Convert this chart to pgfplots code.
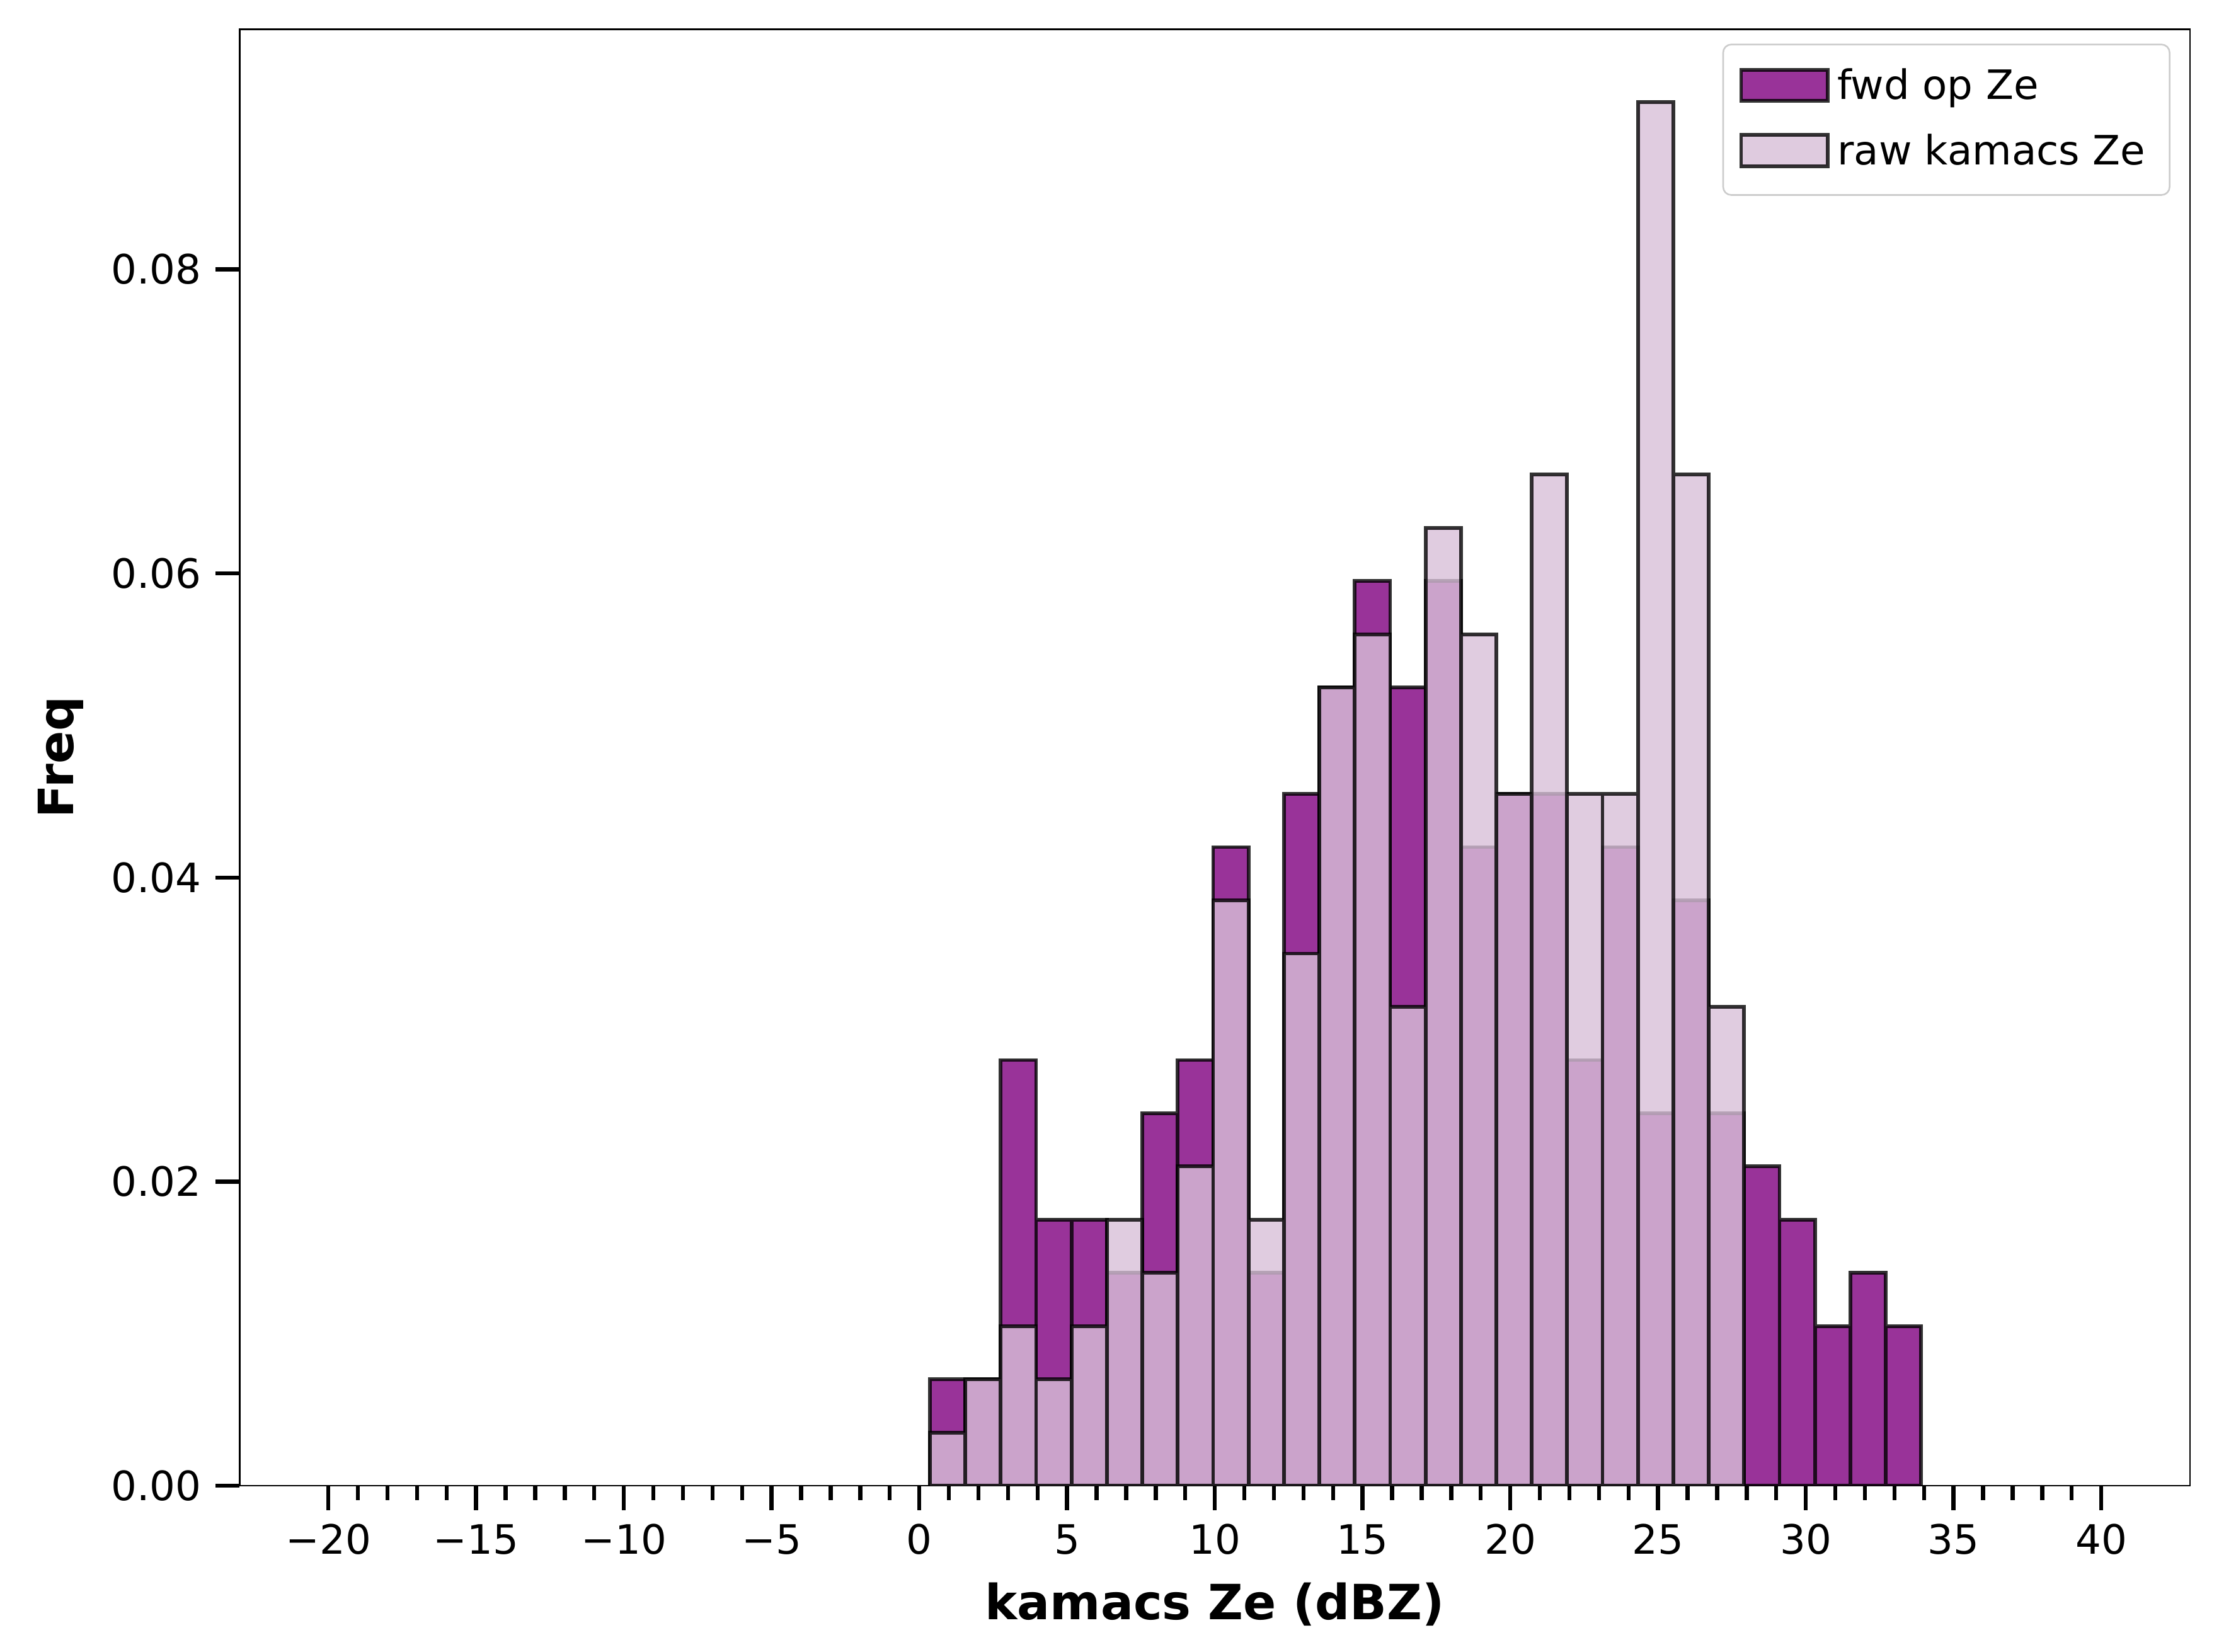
\documentclass[border=0pt]{standalone}
\usepackage{pgfplots}
\pgfplotsset{compat=1.18}
\usepackage{fontspec}
\setmainfont{DejaVu Sans}
\definecolor{fwd}{HTML}{800080}
\definecolor{raw}{HTML}{D8BFD8}
\begin{document}
\begin{tikzpicture}
\begin{axis}[
  width=482pt, height=360pt, scale only axis,
  xmin=-23, xmax=43, ymin=0, ymax=0.0958,
  xtick={-20,-15,...,40},
  xticklabels={−20,−15,−10,−5,0,5,10,15,20,25,30,35,40},
  minor x tick num=4,
  ytick={0,0.02,0.04,0.06,0.08},
  tick align=outside, tick pos=left,
  major tick length=6pt, minor tick length=3.5pt,
  every tick/.style={black, line width=1pt},
  /pgf/number format/assume math mode=true,
  y tick label style={/pgf/number format/fixed,/pgf/number format/fixed zerofill,/pgf/number format/precision=2},
  scaled y ticks=false,
  xlabel={\textbf{kamacs Ze (dBZ)}}, ylabel={\textbf{Freq}},
  label style={font=\large},
  legend style={at={(0.99,0.99)}, anchor=north east, draw=black!20, rounded corners=2pt, font=\normalsize, cells={anchor=west}, inner sep=4pt, row sep=3pt},
  legend cell align=left,
  legend image code/.code={\draw[#1, sharp corners] (0cm,-0.12cm) rectangle (0.75cm,0.15cm);},
]
\addplot[ybar interval, fill=fwd, fill opacity=0.8, draw=black, draw opacity=0.8, line width=0.9pt] coordinates {
(0.36,0.007)(1.558,0.007)(2.756,0.028)(3.954,0.0175)(5.152,0.0175)(6.35,0.014)(7.548,0.0245)(8.746,0.028)(9.944,0.042)(11.142,0.014)(12.34,0.0455)(13.538,0.0525)(14.736,0.0595)(15.934,0.0525)(17.132,0.0595)(18.33,0.042)(19.528,0.0455)(20.726,0.0455)(21.924,0.028)(23.122,0.042)(24.32,0.0245)(25.518,0.0385)(26.716,0.0245)(27.914,0.021)(29.112,0.0175)(30.31,0.0105)(31.508,0.014)(32.706,0.0105)(33.904,0.0105)};
\addlegendentry{fwd op Ze}
\addplot[ybar interval, fill=raw, fill opacity=0.8, draw=black, draw opacity=0.8, line width=0.9pt] coordinates {
(0.36,0.0035)(1.558,0.007)(2.756,0.0105)(3.954,0.007)(5.152,0.0105)(6.35,0.0175)(7.548,0.014)(8.746,0.021)(9.944,0.0385)(11.142,0.0175)(12.34,0.035)(13.538,0.0525)(14.736,0.056)(15.934,0.0315)(17.132,0.063)(18.33,0.056)(19.528,0.0455)(20.726,0.0665)(21.924,0.0455)(23.122,0.0455)(24.32,0.091)(25.518,0.0665)(26.716,0.0315)(27.914,0.0315)};
\addlegendentry{raw kamacs Ze}
\end{axis}
\path (current bounding box.north east) ++(7pt,7pt) coordinate (ne);
\path (current bounding box.south west) ++(-6pt,-3pt) coordinate (sw);
\path (ne) (sw);
\end{tikzpicture}
\end{document}
